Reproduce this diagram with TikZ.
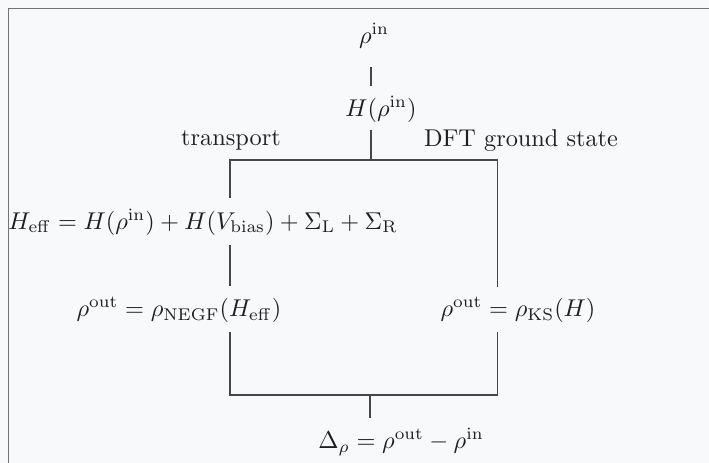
\documentclass[tikz,border=0pt]{standalone}
\begin{document}
\definecolor{bgc}{RGB}{248,249,250}
\begin{tikzpicture}[x=0.4115pt,y=-0.4115pt,
  lbl/.style={inner sep=0pt, text=black!88},
  wire/.style={draw=black!72, line width=0.42pt},
  frame/.style={draw=black!55, line width=0.55pt}]
\fill[bgc] (0,0) rectangle (709,463);
\useasboundingbox (0,0) rectangle (709,463);
\draw[frame] (8.5,463) -- (8.5,8.5) -- (709,8.5);
% labels
\node[lbl] (rin) at (374,36) {$\rho^{\mathrm{in}}$};
\node[lbl] (hin) at (381,109) {$H(\rho^{\mathrm{in}})$};
\node[lbl] (trn) at (231,140) {transport};
\node[lbl] (dft) at (521,141) {DFT ground state};
\node[lbl] (heff) at (203,222) {$H_{\mathrm{eff}} = H(\rho^{\mathrm{in}}) + H(V_{\mathrm{bias}}) + \Sigma_{\mathrm{L}} + \Sigma_{\mathrm{R}}$};
\node[lbl] (negf) at (179,310) {$\rho^{\mathrm{out}} = \rho_{\mathrm{NEGF}}(H_{\mathrm{eff}})$};
\node[lbl] (ks) at (518,310) {$\rho^{\mathrm{out}} = \rho_{\mathrm{KS}}(H)$};
\node[lbl] (delta) at (401,442) {$\Delta_\rho = \rho^{\mathrm{out}} - \rho^{\mathrm{in}}$};
% connector points
\coordinate (a1) at (371,67);
\coordinate (a2) at (371,86);
\coordinate (b1) at (371,130);
\coordinate (tj) at (371,160);
\coordinate (tl) at (230,160);
\coordinate (tr) at (497,160);
\coordinate (l1) at (230,198);
\coordinate (l2) at (230,245);
\coordinate (l3) at (230,286);
\coordinate (l4) at (230,332);
\coordinate (bl) at (230,395);
\coordinate (br) at (497,395);
\coordinate (r1) at (497,287);
\coordinate (r2) at (497,332);
\coordinate (bj) at (370,395);
\coordinate (bd) at (370,418);
% connectors
\draw[wire] (a1) -- (a2);
\draw[wire] (b1) -- (tj);
\draw[wire] (l1) -- (tl) -- (tr) -- (r1);
\draw[wire] (l2) -- (l3);
\draw[wire] (l4) -- (bl) -- (br) -- (r2);
\draw[wire] (bj) -- (bd);
\end{tikzpicture}
\end{document}
